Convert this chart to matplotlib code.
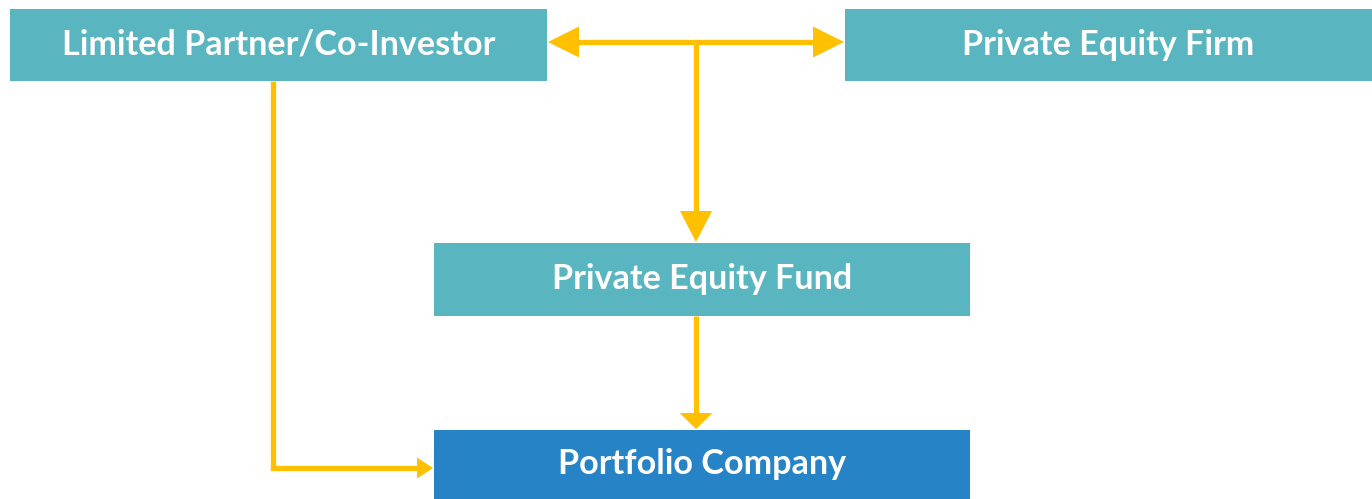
import matplotlib
matplotlib.use("Agg")
import matplotlib.pyplot as plt
from matplotlib.patches import Rectangle, Polygon

# boxes: label, left, top, right, bottom (pixel space, y down)
labels = ["Limited Partner/Co-Investor", "Private Equity Firm",
          "Private Equity Fund", "Portfolio Company"]
lefts = [10, 845, 434, 434]
tops = [9, 9, 243, 430]
rights = [547, 1372, 970, 970]
bottoms = [81, 81, 316, 499]
colors = ["#59B5BF", "#59B5BF", "#59B5BF", "#2683C6"]

yellow = "#FFC000"

W, H = 1372, 499
fig = plt.figure(figsize=(W / 100, H / 100), dpi=100)
ax = fig.add_axes([0, 0, 1, 1])
ax.set_xlim(0, W)
ax.set_ylim(H, 0)
ax.axis("off")

for lab, l, t, r, b, c in zip(labels, lefts, tops, rights, bottoms, colors):
    ax.add_patch(Rectangle((l, t), r - l, b - t, color=c, lw=0))
    ax.text((l + r) / 2, (t + b) / 2 + 9.5, lab, color="white", fontsize=24.6,
            fontweight="bold", family="Lato", ha="center", va="baseline")


def head(tip, direction, length, width):
    x, y = tip
    dx, dy = direction
    px, py = -dy, dx
    bx, by = x - dx * length, y - dy * length
    pts = [(x, y), (bx + px * width / 2, by + py * width / 2),
           (bx - px * width / 2, by - py * width / 2)]
    ax.add_patch(Polygon(pts, closed=True, color=yellow, lw=0))


lw = 3.8
mid_y = (tops[0] + bottoms[0]) / 2 - 3
mid_x = 696

# two-way arrow between LP and PE firm
ax.plot([rights[0] + 20, lefts[1] - 20], [mid_y, mid_y], color=yellow, lw=lw,
        solid_capstyle="butt")
head((rights[0] + 1, mid_y), (-1, 0), 31, 31)
head((lefts[1] - 1, mid_y), (1, 0), 31, 31)

# down to fund
ax.plot([mid_x, mid_x], [mid_y, tops[2] - 20], color=yellow, lw=lw,
        solid_capstyle="butt")
head((mid_x, tops[2] - 1), (0, 1), 31, 32)

# fund to portfolio company
ax.plot([mid_x, mid_x], [bottoms[2], tops[3] - 10], color=yellow, lw=lw,
        solid_capstyle="butt")
head((mid_x, tops[3] - 1), (0, 1), 16, 33)

# LP straight to portfolio company
lp_x = 273
pc_y = 468
ax.plot([lp_x, lp_x, lefts[3] - 10], [bottoms[0], pc_y, pc_y], color=yellow,
        lw=lw, solid_joinstyle="miter", solid_capstyle="butt")
head((lefts[3] - 1, pc_y), (1, 0), 16, 21)

fig.savefig("out.png", dpi=100)
